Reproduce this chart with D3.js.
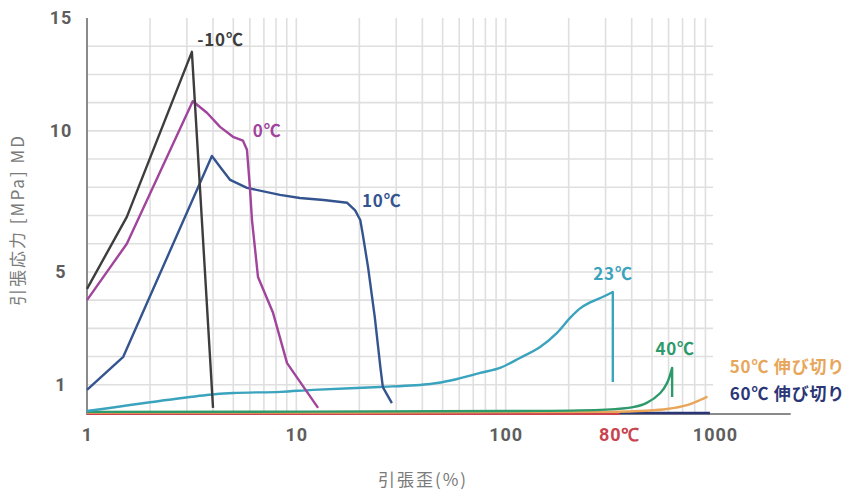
<!DOCTYPE html>
<html>
<head>
<meta charset="UTF-8">
<title>引張応力-歪曲線</title>
<script src="https://d3js.org/d3.v7.min.js"></script>
<style>
  body { margin: 0; background: #fff; }
  svg { display: block; }
  .grid line { stroke: #dfdfdf; stroke-width: 1.6; }
  .tick text { font-family: Roboto, sans-serif; font-weight: 700; font-size: 18px; fill: #5e5e5e; letter-spacing: 1px; }
  .curve { fill: none; stroke-width: 2.4; stroke-linejoin: round; }
  .lbl { font-family: "Noto Sans CJK JP", sans-serif; font-weight: 700; font-size: 17px; letter-spacing: 0.8px; }
  .title { font-family: "Noto Sans CJK JP", sans-serif; font-size: 17px; fill: #7a7a7a; letter-spacing: 2px; }
</style>
</head>
<body>
<svg id="chart" width="852" height="492"></svg>
<script>
// strain (%) / stress (MPa)
const curveM10 = [[1, 4.4], [1.55, 6.95], [3.17, 12.8], [4.0, 0.18]];
const curve0 = [[1, 4.0], [1.55, 6.0], [3.2, 11.05], [3.74, 10.64], [4.32, 10.14], [4.98, 9.79],
  [5.56, 9.65], [5.81, 9.33], [6.0, 8.0], [6.14, 6.84], [6.56, 4.82], [7.74, 3.55], [9.03, 1.77], [12.7, 0.18]];
const curve10 = [[1, 0.82], [1.49, 1.99], [3.95, 9.11], [4.4, 8.65], [4.83, 8.26], [5.81, 7.98],
  [8.35, 7.73], [10.4, 7.62], [13.5, 7.55], [17.5, 7.45], [19.1, 7.18], [20.2, 6.84], [20.8, 6.3],
  [22.0, 5.18], [23.7, 3.4], [25.2, 1.63], [25.9, 0.92], [28.6, 0.35]];
const curve23 = [[1, 0.07], [3.74, 0.64], [5.0, 0.71], [8.4, 0.75], [12, 0.82], [25, 0.92], [43.6, 1.03],
  [56, 1.17], [75.5, 1.42], [94, 1.6], [117, 1.95], [146, 2.34], [176, 2.84], [203, 3.37], [226, 3.7],
  [253, 3.92], [292, 4.12], [325, 4.29], [325, 1.1]];
const curve40 = [[1, 0.04], [100, 0.07], [300, 0.12], [406, 0.21], [472, 0.36], [548, 0.71],
  [590, 1.06], [624, 1.6], [624, 0.57]];
const curve50 = [[1, 0.02], [300, 0.04], [470, 0.08], [590, 0.14], [735, 0.28], [850, 0.46], [920, 0.58]];
const curve60 = [[1, 0], [946, 0]];
const curve80 = [[1, -0.03], [350, -0.03]];

const xTicks = [1, 10, 100, 1000];
const yTicks = [1, 5, 10, 14];
const yTickLabels = ["1", "5", "10", "15"];

// drawing order: bottom first. smooth: spline; drop: last point is a straight break
const series = [
  { name: "60℃ 伸び切り", data: curve60, color: "#2b3676", lx: 1176, ly: 0.46, anchor: "start" },
  { name: "80℃", data: curve80, color: "#c9434f", lx: 350, ly: -1.0, anchor: "middle", tick: true },
  { name: "50℃ 伸び切り", data: curve50, color: "#e8a65a", lx: 1176, ly: 1.42, anchor: "start", smooth: true },
  { name: "40℃", data: curve40, color: "#2e9a6c", lx: 519, ly: 2.06, anchor: "start", smooth: true, drop: true },
  { name: "23℃", data: curve23, color: "#3aa3bd", lx: 262, ly: 4.72, anchor: "start", smooth: true, drop: true },
  { name: "10℃", data: curve10, color: "#34548f", lx: 20.6, ly: 7.3, anchor: "start" },
  { name: "0℃", data: curve0, color: "#a0449c", lx: 6.2, ly: 9.79, anchor: "start" },
  { name: "-10℃", data: curveM10, color: "#3d3d3d", lx: 3.36, ly: 13.0, anchor: "start" }
];

const svg = d3.select("#chart");
const x = d3.scaleLog().domain([1, 1000]).range([87, 715]);
const y = d3.scaleLinear().domain([0, 14]).range([413, 18]);

// grid
const minor = [];
for (let p = 1; p <= 100; p *= 10) {
  for (let k = 1; k <= 9; k++) {
    if (p * k > 1) minor.push(p * k);
  }
}
const grid = svg.append("g").attr("class", "grid");
grid.selectAll("line.v")
  .data(minor)
  .enter().append("line")
  .attr("class", "v")
  .attr("x1", d => x(d)).attr("x2", d => x(d))
  .attr("y1", y(14)).attr("y2", y(0));
grid.selectAll("line.h")
  .data(d3.range(1, 14))
  .enter().append("line")
  .attr("class", "h")
  .attr("x1", x(1)).attr("x2", x(1000) - 2)
  .attr("y1", d => y(d)).attr("y2", d => y(d));

// axis lines
svg.append("line")
  .attr("x1", x(1)).attr("x2", x(2300))
  .attr("y1", y(0) + 1).attr("y2", y(0) + 1)
  .attr("stroke", "#8a8a8a").attr("stroke-width", 2);
svg.append("line")
  .attr("x1", x(1)).attr("x2", x(1))
  .attr("y1", y(14)).attr("y2", y(0) + 2)
  .attr("stroke", "#8a8a8a").attr("stroke-width", 2);

// tick labels
const xAxis = svg.append("g")
  .attr("transform", `translate(0,${y(0)})`)
  .call(d3.axisBottom(x).tickValues(xTicks).tickFormat(d3.format("d")).tickSize(0).tickPadding(15));
xAxis.select(".domain").remove();

const yAxis = svg.append("g")
  .attr("transform", `translate(${x(1)},0)`)
  .call(d3.axisLeft(y).tickValues(yTicks).tickFormat((d, i) => yTickLabels[i]).tickSize(0));
yAxis.select(".domain").remove();
yAxis.selectAll("text").attr("x", -26).attr("text-anchor", "middle");

// curves
const line = d3.line()
  .x(d => x(d[0]))
  .y(d => y(d[1]));
const smoothLine = d3.line()
  .x(d => x(d[0]))
  .y(d => y(d[1]))
  .curve(d3.curveCatmullRom.alpha(0.5));

function curvePath(d) {
  if (!d.smooth) return line(d.data);
  if (!d.drop) return smoothLine(d.data);
  const last = d.data[d.data.length - 1];
  return smoothLine(d.data.slice(0, -1)) + "L" + x(last[0]) + "," + y(last[1]);
}

svg.append("g")
  .selectAll("path")
  .data(series)
  .enter().append("path")
  .attr("class", "curve")
  .attr("stroke", d => d.color)
  .attr("stroke-width", d => d.data.length == 2 ? 3 : 2.4)
  .attr("d", curvePath);

// curve labels
svg.append("g")
  .selectAll("text")
  .data(series)
  .enter().append("text")
  .attr("class", "lbl")
  .attr("x", d => x(d.lx))
  .attr("y", d => y(d.ly))
  .attr("text-anchor", d => d.anchor)
  .attr("fill", d => d.color)
  .style("font-family", d => d.tick ? "Roboto, sans-serif" : null)
  .style("font-size", d => d.tick ? "18px" : null)
  .text(d => d.name);

// axis titles
svg.append("text")
  .attr("class", "title")
  .attr("x", 423).attr("y", 486)
  .attr("text-anchor", "middle")
  .text("引張歪(%)");

svg.append("text")
  .attr("class", "title")
  .attr("transform", "translate(24,220) rotate(-90)")
  .attr("text-anchor", "middle")
  .text("引張応力 [MPa] MD");
</script>
</body>
</html>
